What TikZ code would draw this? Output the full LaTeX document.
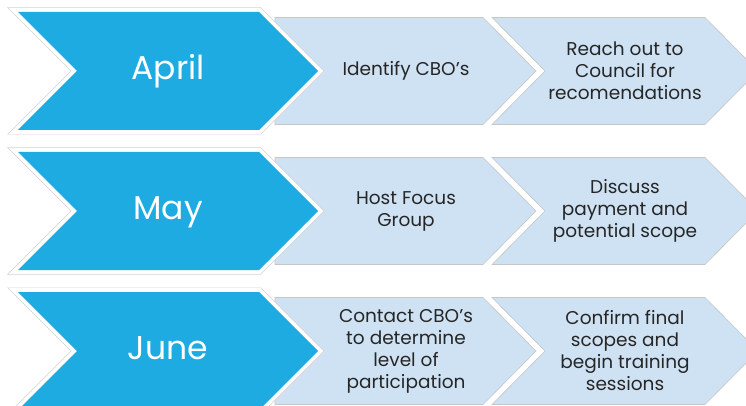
\documentclass[tikz,border=0pt]{standalone}
\usepackage{fontspec}
\setmainfont{Poppins}
\definecolor{chblue}{RGB}{29,171,226}
\definecolor{chlight}{RGB}{207,226,243}
\definecolor{chtext}{RGB}{38,38,38}
\tikzset{
  lightshape/.style={fill=chlight, draw=gray!45, line width=0.6pt, line join=miter},
  blueborder/.style={draw=gray!35, line width=9pt, line join=miter},
  bluewhite/.style={draw=white, line width=7.6pt, line join=miter},
  bluefill/.style={fill=chblue},
  monthtext/.style={text=white, font=\fontsize{33}{36}\selectfont, anchor=base, inner sep=0pt},
  steptext/.style={text=chtext, font=\fontsize{18.5}{22}\selectfont, align=center, inner sep=0pt},
}
\newcommand\chevrow[5]{%
  \path[lightshape] (275,#1-53.5) -- (483,#1-53.5) -- (536,#1) -- (483,#1+53.5) -- (275,#1+53.5) -- cycle;
  \path[lightshape] (492,#1-53.5) -- (705,#1-53.5) -- (758,#1) -- (705,#1+53.5) -- (492,#1+53.5) -- (545,#1) -- cycle;
  \path[blueborder] (18,#1-59) -- (259,#1-59) -- (318,#1) -- (259,#1+59) -- (18,#1+59) -- (77,#1) -- cycle;
  \path[bluewhite] (18,#1-59) -- (259,#1-59) -- (318,#1) -- (259,#1+59) -- (18,#1+59) -- (77,#1) -- cycle;
  \path[bluefill] (18,#1-59) -- (259,#1-59) -- (318,#1) -- (259,#1+59) -- (18,#1+59) -- (77,#1) -- cycle;
  \node[monthtext] (m#2) at (168,#1+8.5) {#3};
  \node[steptext] (a#2) at (406,#1) {#4};
  \node[steptext] (b#2) at (625,#1) {#5};
}
\begin{document}
\begin{tikzpicture}[x=1pt,y=-1pt]
  \useasboundingbox (0,0) rectangle (746,406);
  \clip (0,0) rectangle (746,406);
  \chevrow{71}{1}{April}{Identify CBO's}{Reach out to\\Council for\\recomendations}
  \chevrow{211}{2}{May}{Host Focus\\Group}{Discuss\\payment and\\potential scope}
  \chevrow{351}{3}{June}{Contact CBO's\\to determine\\level of\\participation}{Confirm final\\scopes and\\begin training\\sessions}
\end{tikzpicture}
\end{document}
